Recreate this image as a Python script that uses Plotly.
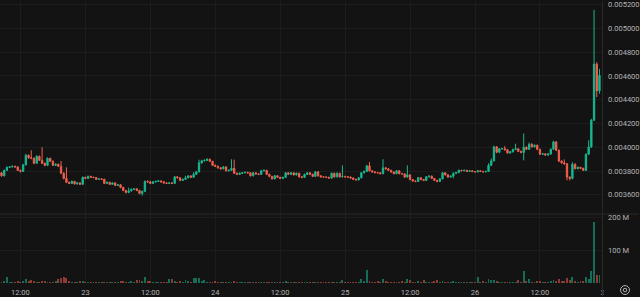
import plotly.graph_objects as go
import pandas as pd

# ---------------- data (prices in units of 1e-6, volume in millions) ----------------
first_open = 3785
close = [
    3760, 3806, 3831, 3835, 3840, 3835, 3806, 3797, 3852, 3932,
    3911, 3907, 3865, 3924, 3890, 3865, 3848, 3907, 3882, 3848,
    3857, 3840, 3781, 3738, 3705, 3696, 3713, 3692, 3700, 3688,
    3747, 3738, 3755, 3747, 3745, 3730, 3734,
    3730, 3696, 3705, 3688, 3700, 3679, 3684, 3662, 3637, 3620,
    3633, 3646, 3650, 3637, 3612, 3629, 3713, 3709, 3696, 3709,
    3713, 3717, 3709, 3700, 3696, 3700, 3696, 3751, 3743, 3721,
    3730, 3743, 3759, 3747, 3772, 3793,
    3869, 3886, 3890, 3899, 3882, 3848, 3840, 3827, 3819, 3835,
    3802, 3806, 3823, 3781, 3772, 3781, 3785, 3789, 3785, 3760,
    3785, 3776, 3772, 3802, 3806, 3772, 3755, 3734, 3760, 3747,
    3738, 3747, 3785, 3772, 3785, 3768, 3781,
    3751, 3747, 3772, 3785, 3772, 3755, 3793, 3760, 3751, 3749,
    3747, 3741, 3781, 3751, 3781, 3751, 3755, 3751, 3749, 3741,
    3730, 3726, 3743, 3785, 3797, 3844, 3802, 3793, 3787, 3785,
    3778, 3827, 3819, 3806, 3792, 3778, 3802,
    3778, 3776, 3749, 3768, 3728, 3716, 3713, 3743, 3728, 3721,
    3751, 3757, 3738, 3721, 3713, 3734, 3785, 3768, 3749, 3757,
    3781, 3787, 3806, 3802, 3806, 3797, 3802, 3796, 3793, 3802,
    3797, 3793, 3797, 3848, 3886, 4004, 3958, 3987,
    3989, 3979, 3952, 3962, 3981, 3987, 3966, 3956, 4000, 3983,
    4025, 4004, 4017, 3983, 3941, 3945, 3935, 3943, 3983, 4045,
    3975, 3884, 3869, 3861, 3749, 3738, 3857, 3820, 3831, 3823,
    3806, 3941, 4003, 4228, 4700, 4475, 4604,
]
high = [
    3792, 3812, 3838, 3842, 3846, 3845, 3840, 3812, 3860, 3945,
    3940, 3975, 3915, 3932, 3930, 4000, 3872, 3915, 3912, 3890,
    3865, 3862, 3884, 3790, 3831, 3712, 3720, 3718, 3706, 3705,
    3755, 3752, 3762, 3760, 3752, 3750, 3740,
    3740, 3735, 3712, 3710, 3706, 3705, 3690, 3690, 3668, 3642,
    3660, 3652, 3656, 3655, 3642, 3635, 3720, 3722, 3714, 3715,
    3720, 3724, 3722, 3714, 3706, 3706, 3706, 3758, 3758, 3748,
    3736, 3760, 3766, 3764, 3790, 3800,
    3895, 3895, 3898, 3906, 3904, 3886, 3855, 3846, 3832, 3842,
    3840, 3812, 3899, 3896, 3788, 3788, 3792, 3795, 3795, 3790,
    3792, 3790, 3782, 3810, 3812, 3810, 3778, 3760, 3766, 3765,
    3752, 3752, 3792, 3790, 3792, 3790, 3788,
    3786, 3756, 3778, 3792, 3790, 3778, 3800, 3798, 3765, 3756,
    3755, 3752, 3788, 3786, 3788, 3786, 3848, 3760, 3756, 3754,
    3746, 3736, 3750, 3792, 3805, 3852, 3876, 3808, 3798, 3792,
    3790, 3899, 3832, 3824, 3810, 3796, 3808,
    3806, 3784, 3780, 3848, 3772, 3732, 3722, 3750, 3748, 3734,
    3758, 3764, 3762, 3742, 3726, 3740, 3792, 3790, 3772, 3762,
    3788, 3794, 3812, 3810, 3811, 3810, 3807, 3806, 3800, 3808,
    3806, 3801, 3802, 3865, 3905, 4012, 4010, 3994,
    3996, 4010, 3985, 3968, 3988, 4030, 3992, 3972, 4116, 4008,
    4040, 4034, 4024, 4022, 3988, 3952, 3950, 3950, 3990, 4055,
    4052, 3980, 3890, 3898, 3866, 3755, 3875, 3865, 3838, 3836,
    3828, 3948, 4059, 4240, 5156, 4716, 4660,
]
low = [
    3752, 3755, 3800, 3826, 3830, 3828, 3800, 3788, 3792, 3848,
    3905, 3900, 3858, 3860, 3884, 3858, 3840, 3842, 3876, 3842,
    3842, 3834, 3776, 3730, 3698, 3690, 3690, 3686, 3686, 3682,
    3684, 3732, 3734, 3742, 3740, 3724, 3726,
    3724, 3690, 3690, 3682, 3684, 3672, 3674, 3655, 3630, 3612,
    3614, 3628, 3640, 3630, 3604, 3593, 3622, 3702, 3690, 3692,
    3704, 3708, 3702, 3694, 3690, 3690, 3690, 3692, 3738, 3715,
    3716, 3726, 3738, 3742, 3742, 3768,
    3788, 3862, 3880, 3884, 3876, 3842, 3834, 3820, 3812, 3814,
    3796, 3796, 3800, 3775, 3766, 3766, 3776, 3780, 3778, 3754,
    3755, 3770, 3766, 3768, 3796, 3766, 3748, 3728, 3730, 3742,
    3732, 3732, 3742, 3766, 3766, 3762, 3762,
    3745, 3740, 3742, 3766, 3766, 3750, 3750, 3754, 3745, 3743,
    3741, 3735, 3736, 3745, 3746, 3745, 3745, 3745, 3743, 3735,
    3724, 3720, 3720, 3738, 3780, 3792, 3796, 3788, 3780, 3778,
    3772, 3772, 3812, 3800, 3786, 3772, 3772,
    3772, 3770, 3742, 3744, 3722, 3710, 3706, 3708, 3722, 3715,
    3716, 3746, 3732, 3715, 3706, 3708, 3730, 3762, 3742, 3744,
    3740, 3776, 3782, 3797, 3798, 3792, 3792, 3790, 3788, 3789,
    3792, 3788, 3790, 3792, 3842, 3880, 3950, 3950,
    3980, 3972, 3946, 3946, 3956, 3976, 3960, 3950, 3890, 3976,
    3978, 3998, 3998, 3976, 3935, 3936, 3930, 3928, 3938, 3978,
    3968, 3876, 3862, 3855, 3722, 3721, 3730, 3814, 3815, 3816,
    3800, 3800, 3935, 3995, 4220, 4423, 4450,
]
volume_m = [
    4, 5, 18, 3, 3, 4, 5, 3, 6, 11,
    5, 8, 6, 4, 3, 7, 5, 4, 3, 4,
    5, 12, 15, 20, 14, 6, 4, 3, 4, 5,
    6, 3, 4, 3, 3, 4, 3, 2, 4, 3,
    3, 2, 4, 3, 5, 6, 4, 3, 5, 4,
    10, 8, 6, 20, 7, 5, 4, 3, 3, 4,
    3, 4, 12, 12, 6, 4, 5, 3, 10, 5,
    4, 17, 17, 17, 6, 8, 4, 3, 4, 5,
    3, 4, 3, 2, 3, 4, 5, 3, 2, 3,
    2, 3, 4, 3, 2, 3, 4, 3, 3, 2,
    3, 4, 3, 2, 3, 5, 4, 3, 3, 2,
    3, 2, 4, 3, 2, 3, 4, 3, 2, 3,
    3, 2, 3, 4, 3, 2, 10, 4, 3, 2,
    3, 2, 4, 13, 5, 39, 6, 4, 3, 5,
    4, 13, 5, 4, 3, 4, 3, 4, 5, 3,
    12, 10, 4, 3, 5, 4, 10, 4, 3, 4,
    5, 10, 4, 6, 4, 3, 4, 5, 4, 3,
    2, 3, 2, 3, 3, 3, 19, 2, 6, 3,
    13, 8, 10, 5, 4, 3, 4, 3, 4, 3,
    4, 10, 3, 36, 5, 13, 4, 3, 5, 6,
    4, 3, 4, 5, 10, 6, 12, 5, 6, 17,
    10, 19, 5, 4, 6, 5, 19, 13, 36, 186,
    26, 26,
]
start_time = "2024-03-22 08:30"
tick_times = ["2024-03-22 12:00", "2024-03-23 00:00", "2024-03-23 12:00", "2024-03-24 00:00",
              "2024-03-24 12:00", "2024-03-25 00:00", "2024-03-25 12:00", "2024-03-26 00:00",
              "2024-03-26 12:00", "2024-03-27 00:00"]
tick_labels = ["12:00", "23", "12:00", "24", "12:00", "25", "12:00", "26", "12:00", "27"]
price_ticks = [0.0036, 0.0038, 0.0040, 0.0042, 0.0044, 0.0046, 0.0048, 0.0050, 0.0052]
vol_ticks = [100e6, 200e6]
vol_tick_labels = ["100 M", "200 M"]

# ---------------- derived ----------------
S = 1e-6
c = [v * S for v in close]
o = [first_open * S] + c[:-1]
h = [v * S for v in high]
l = [v * S for v in low]
vol = [v * 1e6 for v in volume_m]
times = pd.date_range(start_time, periods=len(close), freq="30min")

BG = "#131313"
GRID = "#1d1d1d"
SEP = "#2b2b2b"
TXT = "#b4b4b4"
UP = "#17b890"
DOWN = "#f0604d"
VUP = "rgba(23,184,144,0.55)"
VDOWN = "rgba(240,96,77,0.55)"
vcol = [VUP if cc >= oo else VDOWN for cc, oo in zip(c, o)]

W, H = 640, 297
XD = 603.5 / W
Y1 = (H - 214.5) / H
Y0 = (H - 284) / H
r0, r1, r3 = "2024-03-22 08:13:24", "2024-03-26 23:34:12", "2024-03-27 06:18:18"
FONT = dict(family="Roboto", size=7.5, color=TXT)

fig = go.Figure()
fig.add_trace(go.Candlestick(
    x=times, open=o, high=h, low=l, close=c,
    increasing=dict(line=dict(color=UP, width=1), fillcolor=UP),
    decreasing=dict(line=dict(color=DOWN, width=1), fillcolor=DOWN),
    whiskerwidth=0, xaxis="x", yaxis="y", showlegend=False, hoverinfo="skip"))
fig.add_trace(go.Bar(
    x=times, y=vol, marker=dict(color=vcol, line=dict(width=0)),
    width=0.7 * 30 * 60 * 1000, xaxis="x2", yaxis="y2", showlegend=False, hoverinfo="skip"))
fig.add_trace(go.Scatter(x=[], y=[], xaxis="x3", yaxis="y3", showlegend=False))

common_x = dict(type="date", tickvals=tick_times, showticklabels=False, showgrid=True,
                gridcolor=GRID, gridwidth=1, zeroline=False, showline=False, ticks="",
                fixedrange=True)
fig.update_layout(
    width=W, height=H, margin=dict(l=0, r=0, t=0, b=0),
    paper_bgcolor=BG, plot_bgcolor="rgba(0,0,0,0)", font=FONT, showlegend=False,
    dragmode=False, hovermode=False, bargap=0,
    xaxis=dict(domain=[0, XD], range=[r0, r1], anchor="y", rangeslider=dict(visible=False), **common_x),
    xaxis2=dict(domain=[0, XD], range=[r0, r1], anchor="y2", **common_x),
    xaxis3=dict(domain=[0, 1], range=[r0, r3], anchor="y3", type="date", tickvals=tick_times,
                ticktext=tick_labels, showgrid=False, zeroline=False, showline=False,
                ticks="outside", ticklen=2, tickcolor="rgba(0,0,0,0)", tickfont=FONT, fixedrange=True),
    yaxis=dict(domain=[Y1, 1], anchor="x", side="right", range=[3438 * S, 5231 * S],
               tickvals=price_ticks, tickformat=".6f", showgrid=True, gridcolor=GRID,
               zeroline=False, showline=False, ticks="outside", ticklen=3, tickcolor="rgba(0,0,0,0)",
               tickfont=FONT, fixedrange=True),
    yaxis2=dict(domain=[Y0, Y1], anchor="x2", side="right", range=[0, 210.6e6],
                tickvals=vol_ticks, ticktext=vol_tick_labels, showgrid=True, gridcolor=GRID,
                zeroline=False, showline=False, ticks="outside", ticklen=3, tickcolor="rgba(0,0,0,0)",
                tickfont=FONT, fixedrange=True),
    yaxis3=dict(domain=[Y0, Y1], anchor="x3", visible=False, fixedrange=True),
)

cx, cy = 626 / W, (H - 291) / H
shapes = [
    dict(type="line", xref="paper", yref="paper", x0=0, x1=1, y0=Y1, y1=Y1,
         line=dict(color=SEP, width=1), layer="above"),
    dict(type="line", xref="paper", yref="paper", x0=XD, x1=XD, y0=0, y1=1,
         line=dict(color=SEP, width=1), layer="above"),
    dict(type="rect", xref="paper", yref="paper", x0=604.5 / W, x1=1, y0=0, y1=Y0,
         fillcolor=BG, line=dict(width=0), layer="above"),
    dict(type="circle", xref="paper", yref="paper", x0=cx - 4.5 / W, x1=cx + 4.5 / W,
         y0=cy - 4.5 / H, y1=cy + 4.5 / H, line=dict(color=TXT, width=1), layer="above"),
    dict(type="circle", xref="paper", yref="paper", x0=cx - 1.8 / W, x1=cx + 1.8 / W,
         y0=cy - 1.8 / H, y1=cy + 1.8 / H, line=dict(color=TXT, width=1), layer="above"),
]
fig.update_layout(shapes=shapes)

fig.write_html("out.html", config={"displayModeBar": False, "staticPlot": True})
